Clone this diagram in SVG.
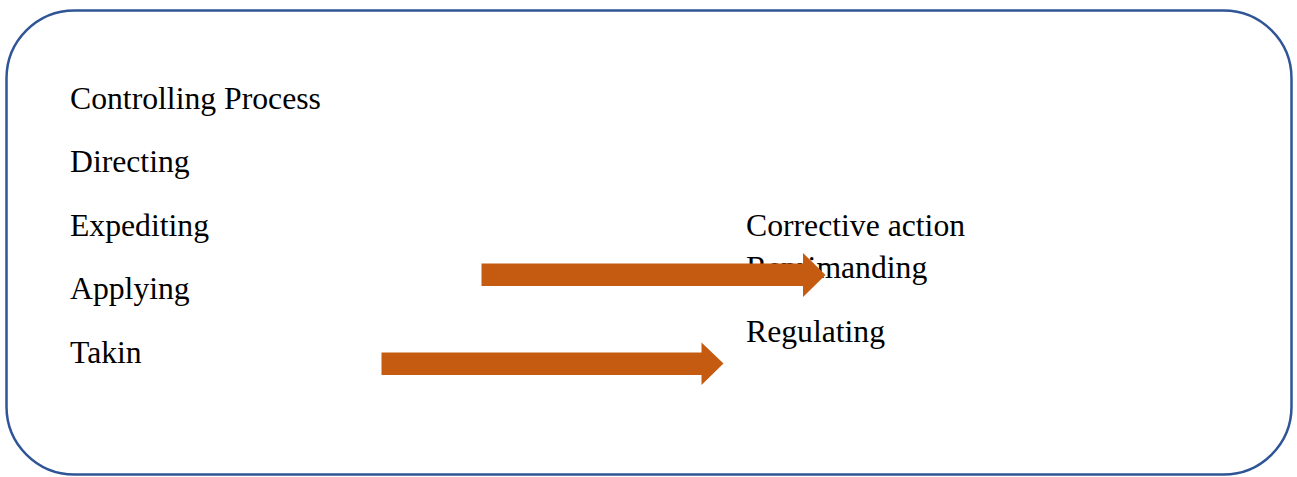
<svg xmlns="http://www.w3.org/2000/svg" width="1297" height="477" viewBox="0 0 1297 477">
<style>
.frame{fill:#fff;stroke:#2F5597;stroke-width:2.5}
.t{font-family:"Liberation Serif","Times New Roman",serif;font-size:31.7px;fill:#000}
.arr{fill:#C55A11}
</style>
<rect width="1297" height="477" fill="#fff"/>
<g id="frame"><rect class="frame" x="6.5" y="10.5" width="1285" height="464" rx="68" ry="68"/></g>
<g id="node-controlling"><text class="t" x="70" y="109">Controlling Process</text></g>
<g id="node-directing"><text class="t" x="70" y="172">Directing</text></g>
<g id="node-expediting"><text class="t" x="70" y="236">Expediting</text></g>
<g id="node-applying"><text class="t" x="70" y="299">Applying</text></g>
<g id="node-takin"><text class="t" x="70" y="363">Takin</text></g>
<g id="node-corrective"><text class="t" x="746" y="236">Corrective action</text></g>
<g id="node-reprimanding"><text class="t" x="746" y="278">Reprimanding</text></g>
<g id="node-regulating"><text class="t" x="746" y="342">Regulating</text></g>
<g id="connectors">
<polygon class="arr" points="481.5,263.5 803,263.5 803,253 825.5,275 803,297 803,286 481.5,286"/>
<polygon class="arr" points="381.5,352.5 701.5,352.5 701.5,342.5 723.5,363.5 701.5,385 701.5,375 381.5,375"/>
</g>
</svg>
